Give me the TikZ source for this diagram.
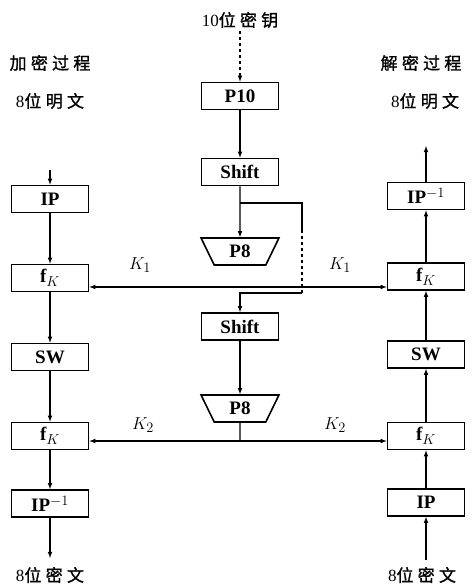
\documentclass[tikz,border=0pt]{standalone}
\usepackage{fontspec}
\setmainfont{Liberation Serif}
\newfontfamily\cjk[LetterSpace=25, FakeBold=1.2]{Noto Sans CJK SC}
\usetikzlibrary{shapes.geometric, arrows, positioning}
\tikzstyle{block} = [rectangle, minimum width=77pt, minimum height=27pt, text centered, draw=black, line width=1.6pt, font=\bfseries\fontsize{19}{21}\selectfont]
\tikzstyle{perm} = [trapezium, trapezium angle=70, trapezium stretches=true, shape border rotate=180, minimum width=78pt, minimum height=27pt, draw=black, line width=1.6pt, font=\bfseries\fontsize{19}{21}\selectfont]
\tikzstyle{cntext} = [font=\cjk\fontsize{17}{19}\selectfont]
\tikzstyle{keytext} = [font=\fontsize{19}{21}\selectfont]
\tikzstyle{arrow} = [line width=1.1pt,->,>=latex]
\begin{document}
\begin{tikzpicture}[x=1pt, y=1pt, node distance=78pt]
\useasboundingbox (0,0) rectangle (471,-588);

% Key generation
\node (keyin) [cntext] at (240,-20) {{\rmfamily 10}位密钥};
\node (p10) [block] at (240,-96) {P10};
\node (shifta) [block, below of=p10, yshift=2pt] {Shift};
\node (p8a) [perm, below of=shifta, yshift=-1.5pt] {P8};
\node (shiftb) [block, below of=p8a, yshift=3pt] {Shift};
\node (p8b) [perm, below of=shiftb, yshift=-4pt] {P8};

% Encryption
\node (enctitle) [cntext] at (50,-63) {加密过程};
\node (plainl) [cntext] at (50,-101) {{\rmfamily 8}位明文};
\node (ipl) [block] at (50,-199) {IP};
\node (fkal) [block, below of=ipl, yshift=-1pt] {f$_K$};
\node (swl) [block, below of=fkal, yshift=-1pt] {SW};
\node (fkbl) [block, below of=swl, yshift=-1pt] {f$_K$};
\node (ipinvl) [block, below of=fkbl, yshift=10.5pt] {IP$^{-1}$};
\node (cipherl) [cntext] at (50,-575) {{\rmfamily 8}位密文};

% Decryption
\node (dectitle) [cntext] at (421,-63) {解密过程};
\node (plainr) [cntext] at (425,-101) {{\rmfamily 8}位明文};
\node (ipinvr) [block] at (426,-196) {IP$^{-1}$};
\node (fkar) [block, below of=ipinvr, yshift=-2.5pt] {f$_K$};
\node (swr) [block, below of=fkar] {SW};
\node (fkbr) [block, below of=swr, yshift=-3.5pt] {f$_K$};
\node (ipr) [block, below of=fkbr, yshift=11.5pt] {IP};
\node (cipherr) [cntext] at (422,-575) {{\rmfamily 8}位密文};

% Free ends and junctions
\coordinate (inl) at (50,-170);
\coordinate (outl) at (50,-558);
\coordinate (inr) at (426,-560);
\coordinate (outr) at (426,-146);
\coordinate (split) at (240,-203);
\coordinate (k1) at (302,-287);
\coordinate (turn) at (302,-293);
\coordinate (k2) at (240,-441);

% Key labels
\node (k1l) [keytext] at (140,-265) {$K_1$};
\node (k1r) [keytext] at (340,-265) {$K_1$};
\node (k2l) [keytext] at (143,-425) {$K_2$};
\node (k2r) [keytext] at (335,-425) {$K_2$};

% Arrows
\draw [arrow, dashed] (keyin) -- (p10);
\draw [arrow] (p10) -- (shifta);
\draw [arrow] (shifta) -- (p8a);
\draw [line width=1.1pt] (split) -| (302,-230);
\draw [line width=1.1pt, dashed] (302,-230) -- (k1) -- (turn);
\draw [arrow] (turn) -| (shiftb.north);
\draw [arrow] (shiftb) -- (p8b);
\draw [line width=1.1pt] (p8b.south) -- (k2);
\draw [arrow] (k1) -- (k1 -| fkal.east);
\draw [arrow] (k1) -- (k1 -| fkar.west);
\draw [arrow] (k2) -- (k2 -| fkbl.east);
\draw [arrow] (k2) -- (k2 -| fkbr.west);

\draw [arrow] (inl) -- (ipl);
\draw [arrow] (ipl) -- (fkal);
\draw [arrow] (fkal) -- (swl);
\draw [arrow] (swl) -- (fkbl);
\draw [arrow] (fkbl) -- (ipinvl);
\draw [arrow] (ipinvl) -- (outl);

\draw [arrow] (inr) -- (ipr);
\draw [arrow] (ipr) -- (fkbr);
\draw [arrow] (fkbr) -- (swr);
\draw [arrow] (swr) -- (fkar);
\draw [arrow] (fkar) -- (ipinvr);
\draw [arrow] (ipinvr) -- (outr);

\end{tikzpicture}
\end{document}
